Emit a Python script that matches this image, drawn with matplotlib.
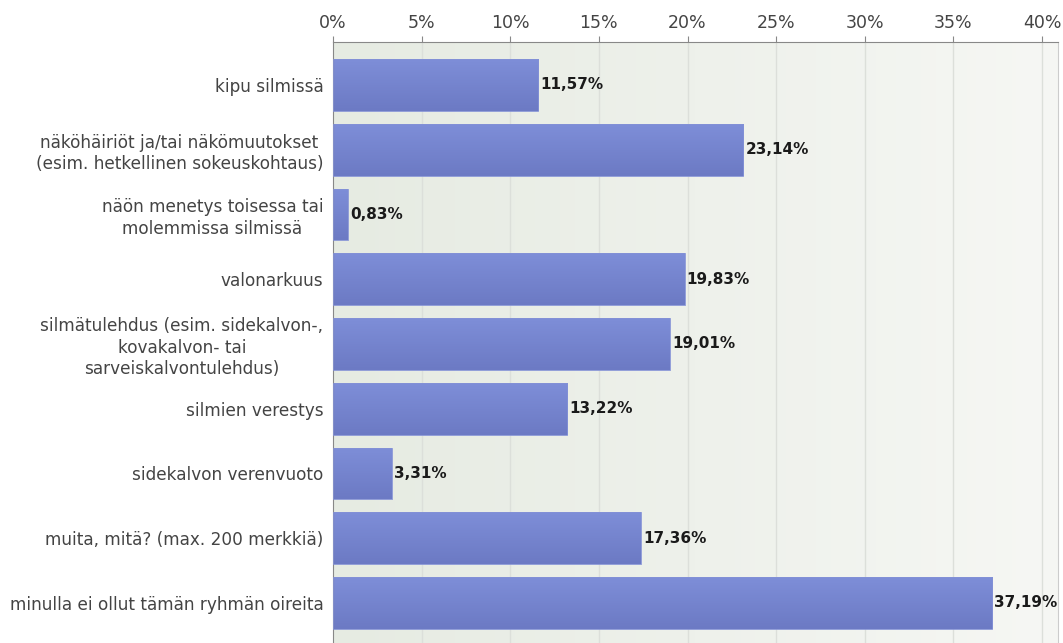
import matplotlib.pyplot as plt
import numpy as np
from matplotlib.colors import LinearSegmentedColormap
from matplotlib.ticker import FuncFormatter

labels = [
    "kipu silmissä",
    "näköhäiriöt ja/tai näkömuutokset\n(esim. hetkellinen sokeuskohtaus)",
    "näön menetys toisessa tai\nmolemmissa silmissä",
    "valonarkuus",
    "silmätulehdus (esim. sidekalvon-,\nkovakalvon- tai\nsarveiskalvontulehdus)",
    "silmien verestys",
    "sidekalvon verenvuoto",
    "muita, mitä? (max. 200 merkkiä)",
    "minulla ei ollut tämän ryhmän oireita",
]
values = [11.57, 23.14, 0.83, 19.83, 19.01, 13.22, 3.31, 17.36, 37.19]
ticks = [0, 5, 10, 15, 20, 25, 30, 35, 40]

plt.rcParams['font.family'] = ['DejaVu Sans']

fig = plt.figure(figsize=(10.63, 6.43), dpi=100)
ax = fig.add_axes([333 / 1063, 0, 725 / 1063, 1 - 42 / 643])

xmax = 40.9
ymin, ymax = 8.62, -0.664

# background: soft green-grey gradient from left to right
bg = np.linspace(0, 1, 256).reshape(1, -1)
bg_cmap = LinearSegmentedColormap.from_list("bg", ["#e6ebe2", "#f6f7f4"])
ax.imshow(bg, cmap=bg_cmap, aspect='auto', extent=[0, xmax, ymin, ymax],
          zorder=0)

for t in ticks[1:]:
    ax.axvline(t, color="#dcdfda", lw=1, zorder=1)

# bars with a vertical gradient (lighter on top)
bar_cmap = LinearSegmentedColormap.from_list("bar", ["#7e8ed8", "#6c7ac4"])
grad = np.linspace(0, 1, 64).reshape(-1, 1)
h = 0.8
for i, v in enumerate(values):
    rect = ax.barh(i, v, height=h, color="none", edgecolor="#8391d6",
                   lw=0.6, zorder=3)[0]
    im = ax.imshow(grad, cmap=bar_cmap, aspect='auto',
                   extent=[0, v, i + h / 2, i - h / 2], zorder=2)
    im.set_clip_path(rect)
    ax.text(v + 0.12, i, f"{v:.2f}%".replace(".", ","), va='center',
            ha='left', fontsize=11, color="#1a1a1a", fontweight='bold',
            zorder=4)

ax.set_ylim(ymin, ymax)
ax.set_xlim(0, xmax)

ax.set_yticks(range(len(labels)))
ax.set_yticklabels(labels, fontsize=12.2, color="#444444",
                   multialignment='center', linespacing=1.25)
ax.tick_params(axis='y', length=0, pad=7)

ax.xaxis.tick_top()
ax.set_xticks(ticks)
ax.xaxis.set_major_formatter(FuncFormatter(lambda x, p: f"{x:.0f}%"))
ax.tick_params(axis='x', length=4, color="#888888", labelsize=12.5,
               labelcolor="#444444", pad=3)

ax.spines['bottom'].set_visible(False)
ax.spines['top'].set_color("#888888")
ax.spines['left'].set_color("#888888")
ax.spines['right'].set_color("#cccccc")

fig.savefig("out.png", dpi=100)
